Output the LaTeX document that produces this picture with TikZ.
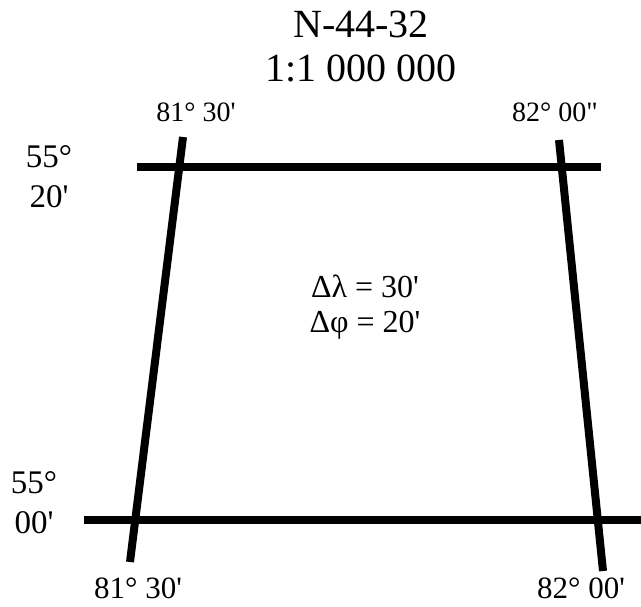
\documentclass[tikz,border=0pt]{standalone}
\usepackage{fontspec}
\setmainfont{Liberation Serif}
\usepackage{tikz}

% straight minute and second marks
\newcommand{\amin}{\textquotesingle}
\newcommand{\asec}{\textquotedbl}

\begin{document}
\begin{tikzpicture}[
    x=1pt, y=-1pt,
    % heavy meridian / parallel lines of the sheet
    frameline/.style={line width=8pt, black},
    % text chips, all set on their baseline
    titletxt/.style={font=\fontsize{40}{44}\selectfont, anchor=base, inner sep=0pt},
    toplbl/.style={font=\fontsize{28}{32}\selectfont, anchor=base, inner sep=0pt},
    sidelbl/.style={font=\fontsize{33}{36}\selectfont, anchor=base, inner sep=0pt},
    botlbl/.style={font=\fontsize{31}{36}\selectfont, anchor=base, inner sep=0pt},
    midlbl/.style={font=\fontsize{32}{36}\selectfont, anchor=base, inner sep=0pt},
]
    \useasboundingbox (0,0) rectangle (641,607);

    % sheet name and scale
    \node[titletxt] (title) at (361,38) {N-44-32};
    \node[titletxt] (scale) at (361,82) {1:1 000 000};

    % end points of the parallels and meridians
    \coordinate (north-w) at (137,167);
    \coordinate (north-e) at (601,167);
    \coordinate (south-w) at (84,520);
    \coordinate (south-e) at (641,520);
    \coordinate (west-n) at (183,137);
    \coordinate (west-s) at (130,562);
    \coordinate (east-n) at (559,140);
    \coordinate (east-s) at (603,571);

    \draw[frameline] (north-w) -- (north-e);
    \draw[frameline] (south-w) -- (south-e);
    \draw[frameline] (west-n) -- (west-s);
    \draw[frameline] (east-n) -- (east-s);

    % longitudes on top
    \node[toplbl] (lonTW) at (196,122) {81° 30\amin};
    \node[toplbl] (lonTE) at (555,122) {82° 00\asec};

    % latitudes on the left
    \node[sidelbl] (latNdeg) at (49,168) {55°};
    \node[sidelbl] (latNmin) at (49,208) {20\amin};
    \node[sidelbl] (latSdeg) at (34,493) {55°};
    \node[sidelbl] (latSmin) at (34,533) {00\amin};

    % longitudes at the bottom
    \node[botlbl] (lonBW) at (138,598) {81° 30\amin};
    \node[botlbl] (lonBE) at (581,598) {82° 00\amin};

    % sheet size
    \node[midlbl] (dlambda) at (365,298) {Δλ = 30\amin};
    \node[midlbl] (dphi) at (365,333) {Δφ = 20\amin};
\end{tikzpicture}
\end{document}
